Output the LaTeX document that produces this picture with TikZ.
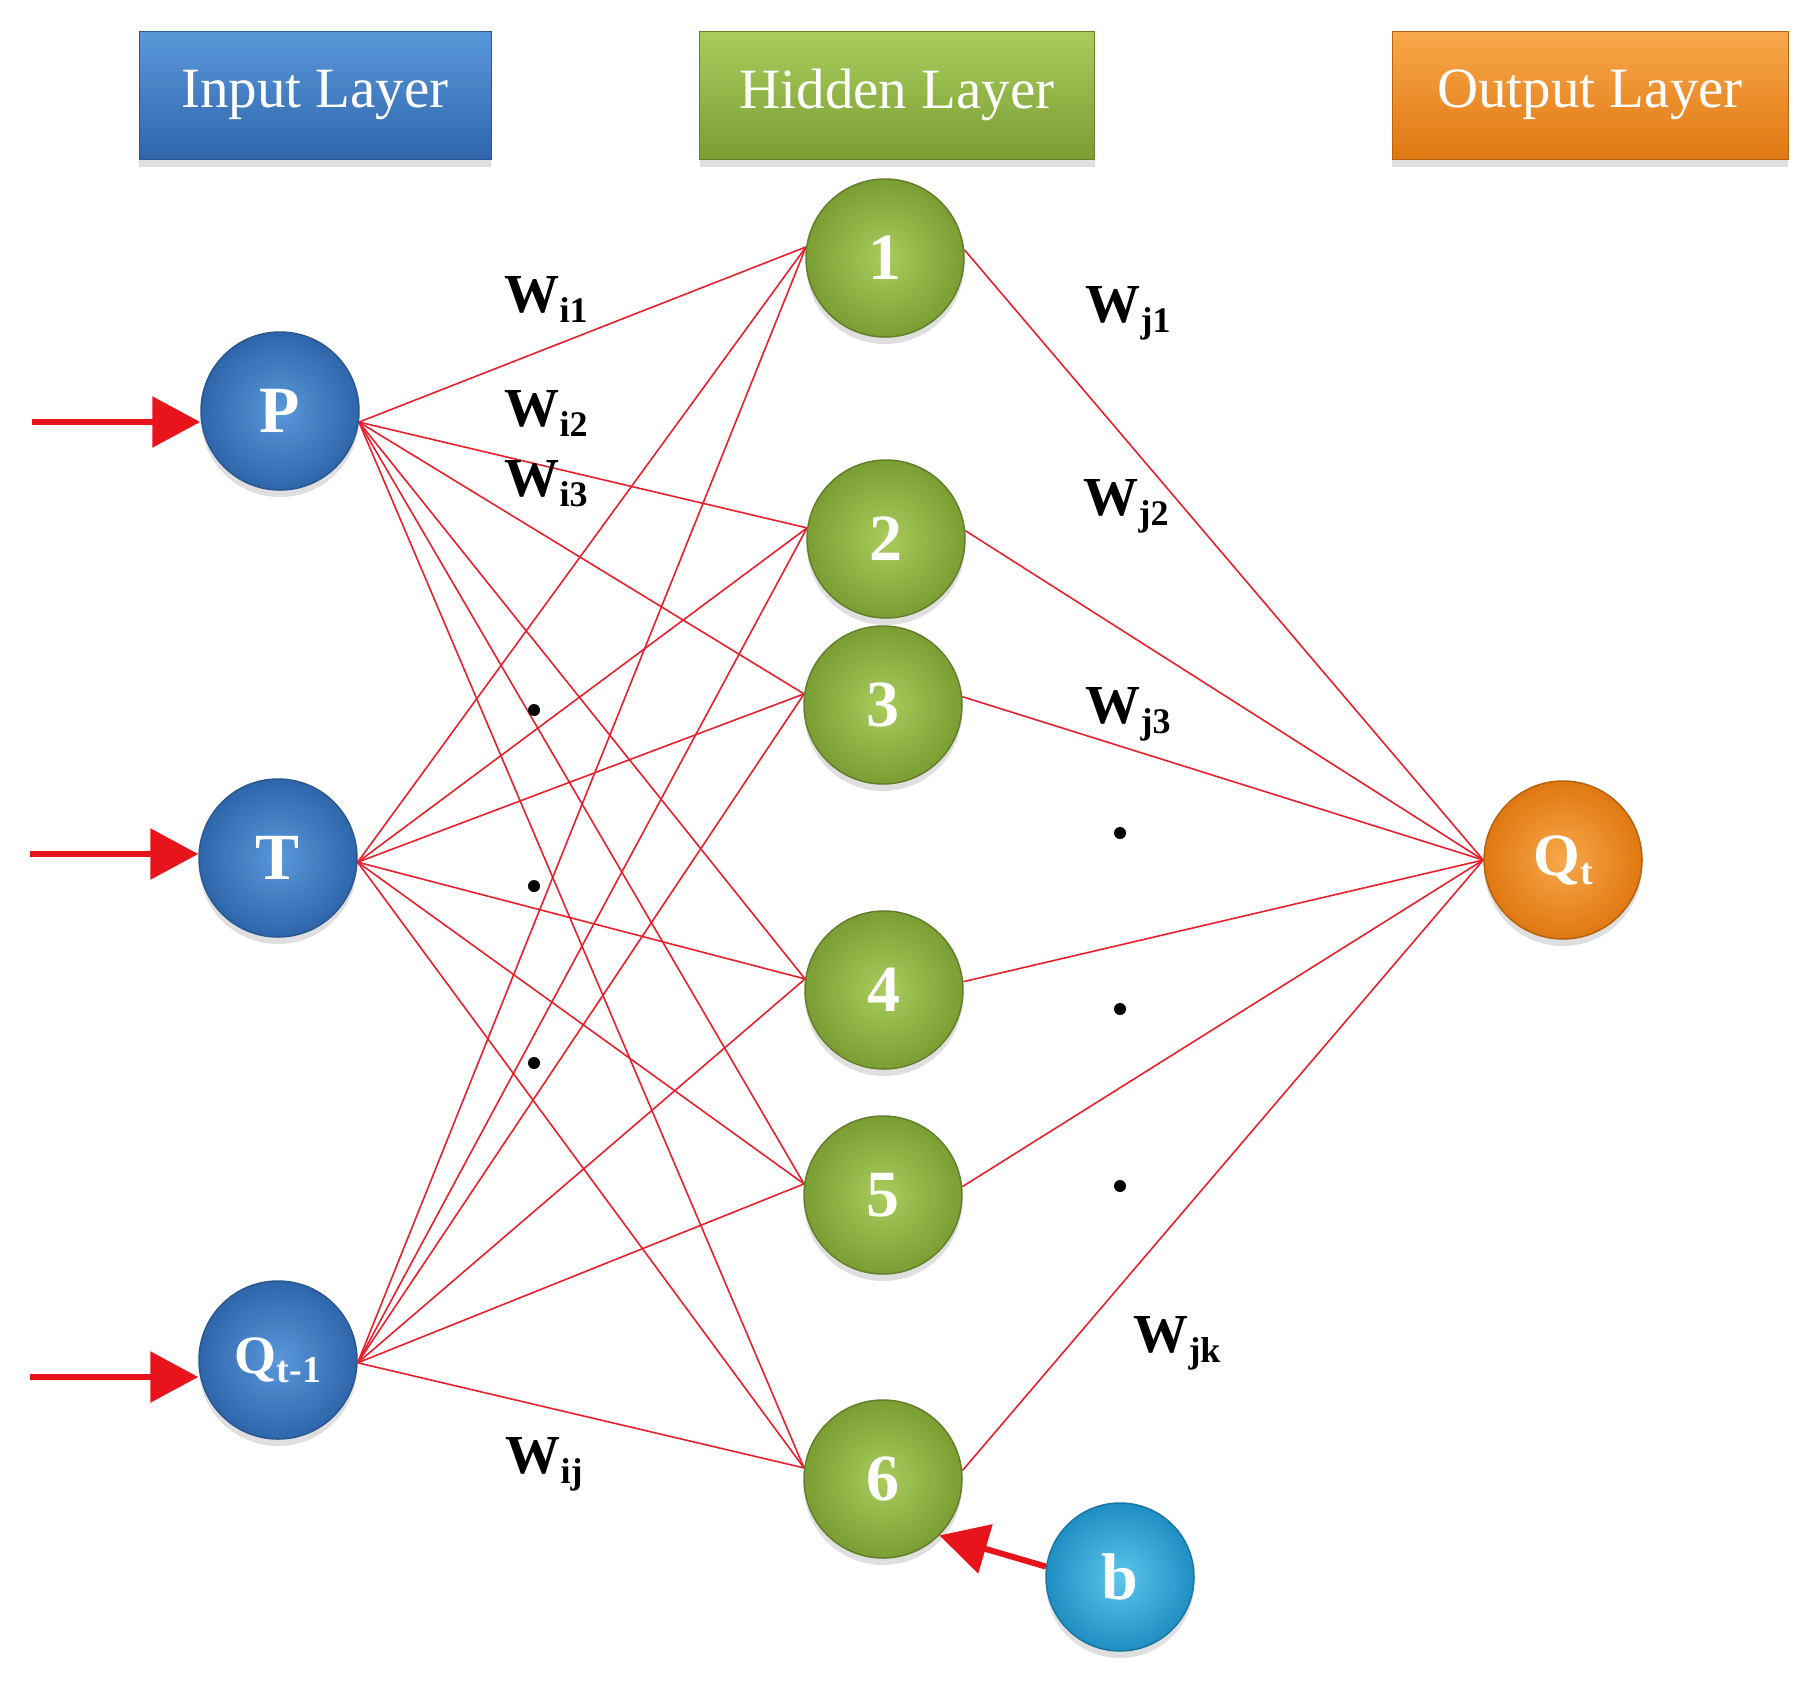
\documentclass[tikz,border=0pt]{standalone}
\usepackage{fontspec}
\setmainfont{Liberation Serif}
\usetikzlibrary{shadows,arrows.meta}
\definecolor{bluebase}{HTML}{2F66AB}
\definecolor{bluelight}{HTML}{5A98DA}
\definecolor{bluerim}{HTML}{2A5790}
\definecolor{greenbase}{HTML}{7A9E33}
\definecolor{greenlight}{HTML}{A9CC5C}
\definecolor{greenrim}{HTML}{647F2A}
\definecolor{orangebase}{HTML}{E07812}
\definecolor{orangelight}{HTML}{F8A84A}
\definecolor{orangerim}{HTML}{B8620E}
\definecolor{cyanbase}{HTML}{1F8EC2}
\definecolor{cyanlight}{HTML}{5CC6EC}
\definecolor{cyanrim}{HTML}{1A76A2}
\definecolor{linkred}{HTML}{E8202E}
\definecolor{arrowred}{HTML}{E8141C}
\pgfdeclarelayer{background}
\pgfsetlayers{background,main}
\newcommand{\wsub}[2]{#1\raisebox{-10pt}{\fontsize{36}{40}\selectfont #2}}
\newcommand{\qsub}[3]{{\fontsize{#3}{#3}\selectfont Q}\raisebox{-9pt}{\fontsize{38}{40}\selectfont #2}}
\tikzset{
  layerbox/.style={minimum width=352pt, minimum height=128pt, inner sep=0pt,
    text=white, font=\fontsize{57}{60}\selectfont,
    top color=#1light, bottom color=#1base, draw=#1rim, line width=1pt,
    drop shadow={opacity=0.25, shadow xshift=0pt, shadow yshift=-8pt}},
  neuron/.style={circle, minimum size=158pt, inner sep=0pt, text=white,
    font=\fontsize{66}{70}\selectfont\bfseries, draw=#1rim, line width=1.5pt,
    inner color=#1light, outer color=#1base,
    drop shadow={opacity=0.25, shadow xshift=0pt, shadow yshift=-7pt}},
  link/.style={draw=linkred, line width=1.6pt},
  feed/.style={draw=arrowred, line width=6pt, -{Triangle[length=48pt,width=50pt]}},
  wlab/.style={font=\fontsize{55}{60}\selectfont\bfseries},
  blackdot/.style={circle, fill=black, minimum size=12pt, inner sep=0pt}
}
\begin{document}
\begin{tikzpicture}[x=1pt,y=-1pt]
\useasboundingbox (0,0) rectangle (1815,1687);
% layer boxes
\node[layerbox=blue, minimum width=352pt] (boxin) at (315,95) {Input Layer};
\node[layerbox=green, minimum width=395pt] (boxhid) at (897,95) {Hidden Layer};
\node[layerbox=orange, minimum width=396pt] (boxout) at (1590,95) {Output Layer};
% input neurons
\node[neuron=blue] (P) at (280,411) {P};
\node[neuron=blue] (T) at (278,858) {T};
\node[neuron=blue] (Q1) at (278,1360) {\qsub{Q}{t-1}{54}};
% hidden neurons
\node[neuron=green] (h1) at (885,258) {1};
\node[neuron=green] (h2) at (886,539) {2};
\node[neuron=green] (h3) at (883,705) {3};
\node[neuron=green] (h4) at (884,990) {4};
\node[neuron=green] (h5) at (883,1195) {5};
\node[neuron=green] (h6) at (883,1479) {6};
% output neuron
\node[neuron=orange] (out) at (1563,860) {\qsub{Q}{t}{60}};
% bias
\node[neuron=cyan, minimum size=148pt] (b) at (1120,1577) {b};
% links
\begin{pgfonlayer}{background}
\fill[white] (0,0) rectangle (1815,1687);
\foreach \j in {1,...,6} {
  \draw[link] (P.-8) -- (h\j.172);
  \draw[link] (T.-3) -- (h\j.172);
  \draw[link] (Q1.-2) -- (h\j.172);
  \draw[link] (h\j.6) -- (out.west);
}
\end{pgfonlayer}
% input arrows
\coordinate (aP) at (32,422);
\coordinate (aT) at (30,854);
\coordinate (aQ) at (30,1377);
\draw[feed] (aP) -- (aP -| P.west);
\draw[feed] (aT) -- (aT -| T.west);
\draw[feed] (aQ) -- (aQ -| Q1.west);
\draw[feed] (b.172) -- (h6.-45);
% weight labels
\node[wlab] (wi1) at (546,299) {\wsub{W}{i1}};
\node[wlab] (wi2) at (546,413) {\wsub{W}{i2}};
\node[wlab] (wi3) at (546,484) {\wsub{W}{i3}};
\node[wlab] (wij) at (544,1464) {\wsub{W}{ij}};
\node[wlab] (wj1) at (1128,313) {\wsub{W}{j1}};
\node[wlab] (wj2) at (1126,506) {\wsub{W}{j2}};
\node[wlab] (wj3) at (1128,714) {\wsub{W}{j3}};
\node[wlab] (wjk) at (1177,1343) {\wsub{W}{jk}};
% dots
\node[blackdot] (d1) at (534,710) {};
\node[blackdot] (d2) at (534,886) {};
\node[blackdot] (d3) at (534,1063) {};
\node[blackdot] (d4) at (1120,833) {};
\node[blackdot] (d5) at (1120,1009) {};
\node[blackdot] (d6) at (1120,1186) {};
\end{tikzpicture}
\end{document}
